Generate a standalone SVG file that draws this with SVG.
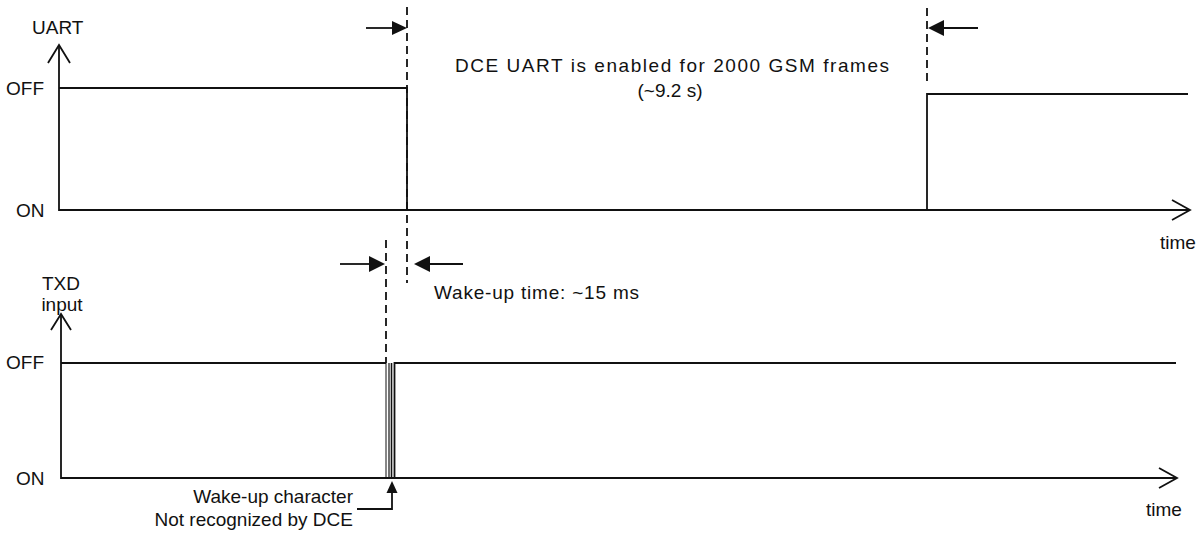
<svg xmlns="http://www.w3.org/2000/svg" width="1201" height="533" viewBox="0 0 1201 533">
<style>
.t{font-family:"Liberation Sans",Arial,sans-serif;font-size:19px;fill:#111}
.ln{stroke:#111;stroke-width:1.8;fill:none}
.ds{stroke:#111;stroke-width:1.8;fill:none;stroke-dasharray:8 5}
.hd{fill:#111}
</style>
<rect width="1201" height="533" fill="#fff"/>
<g id="axes">
  <g id="uart-axis">
    <path class="ln" d="M59,45 V210 H1190"/>
    <path class="ln" d="M48,63 L59,45 L70,63"/>
    <path class="ln" d="M1172,200 L1190,210 L1172,220"/>
    <text class="t" x="32" y="34">UART</text>
    <text class="t" x="6" y="95">OFF</text>
    <text class="t" x="16" y="217">ON</text>
    <text class="t" x="1160" y="249">time</text>
  </g>
  <g id="txd-axis">
    <path class="ln" d="M61,314 V478 H1177"/>
    <path class="ln" d="M51,330 L61,314 L71,330"/>
    <path class="ln" d="M1159,468 L1177,478 L1159,488"/>
    <text class="t" x="61" y="290" text-anchor="middle">TXD</text>
    <text class="t" x="62" y="311" text-anchor="middle">input</text>
    <text class="t" x="6" y="369">OFF</text>
    <text class="t" x="16" y="485">ON</text>
    <text class="t" x="1146" y="516">time</text>
  </g>
</g>
<g id="uart-signal">
  <path class="ln" d="M59,88 H407 V210"/>
  <path class="ln" d="M927,210 V94 H1188"/>
</g>
<g id="txd-signal">
  <path class="ln" d="M61,363 H386"/>
  <line x1="386" y1="363" x2="386" y2="478" stroke="#111" stroke-width="1"/>
  <line x1="389" y1="363" x2="389" y2="478" stroke="#111" stroke-width="1.2"/>
  <line x1="391.5" y1="363" x2="391.5" y2="478" stroke="#111" stroke-width="1.6"/>
  <path class="ln" d="M394.5,478 V363 H1176"/>
</g>
<g id="connectors">
  <line class="ds" x1="407" y1="7" x2="407" y2="283"/>
  <line class="ds" x1="927" y1="8" x2="927" y2="82"/>
  <line class="ds" x1="386" y1="240" x2="386" y2="363"/>
  <line class="ln" x1="366" y1="28" x2="394" y2="28"/>
  <path class="hd" d="M407,28 L392,21 L392,35 Z"/>
  <line class="ln" x1="978" y1="28" x2="940" y2="28"/>
  <path class="hd" d="M928,28 L944,20 L944,36 Z"/>
  <line class="ln" x1="340" y1="264" x2="372" y2="264"/>
  <path class="hd" d="M385,264 L369,256 L369,272 Z"/>
  <line class="ln" x1="463" y1="264" x2="428" y2="264"/>
  <path class="hd" d="M414,264 L430,256 L430,272 Z"/>
  <path class="ln" d="M357,509 H392 V490"/>
  <path class="hd" d="M392,481 L386.5,493 L397.5,493 Z"/>
</g>
<g id="labels">
  <text class="t" x="455" y="72" font-size="20" textLength="434" lengthAdjust="spacing">DCE UART is enabled for 2000 GSM frames</text>
  <text class="t" x="670" y="97" font-size="20" text-anchor="middle">(~9.2 s)</text>
  <text class="t" x="434" y="299" font-size="20" textLength="205" lengthAdjust="spacing">Wake-up time: ~15 ms</text>
  <text class="t" x="353" y="503" text-anchor="end">Wake-up character</text>
  <text class="t" x="353" y="526" text-anchor="end">Not recognized by DCE</text>
</g>
</svg>
